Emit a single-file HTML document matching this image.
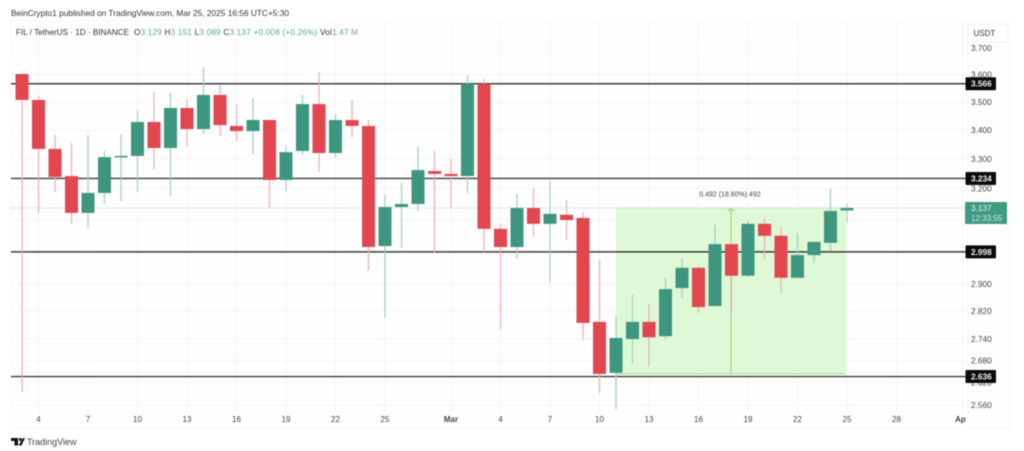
<!DOCTYPE html>
<html lang="en">
<head>
<meta charset="utf-8">
<title>FIL / TetherUS daily chart</title>
<style>
html,body{margin:0;padding:0;background:#fff;width:1024px;height:451px;overflow:hidden}
svg{display:block;filter:blur(0.5px)}
text{font-family:"Liberation Sans",sans-serif}
</style>
</head>
<body>
<svg id="chart" xmlns="http://www.w3.org/2000/svg" width="1024" height="451" viewBox="0 0 1024 451">
  <rect x="0" y="0" width="1024" height="451" fill="#ffffff"/>
  <rect x="10.5" y="20.5" width="1000" height="408" fill="#fefefe" stroke="#f8f8f8"/>
  <line x1="968" x2="968" y1="20" y2="428" stroke="#f6f6f6"/>
  <g id="grid"></g>
  <g>
    <rect x="616" y="208" width="230" height="166" fill="#dff8d6"/>
    <line x1="616" x2="846" y1="208" y2="208" stroke="#a5e08f"/>
    <line x1="616" x2="846" y1="374" y2="374" stroke="#a5e08f"/>
    <line x1="731" x2="731" y1="374" y2="208" stroke="#93d97b"/>
    <path d="M728 211.5 L731 208 L734 211.5" fill="none" stroke="#93d97b"/>
    <text x="730" y="196.5" text-anchor="middle" font-size="7" fill="#444">0.492 (18.60%) 492</text>
  </g>
  <line x1="11" x2="968" y1="208" y2="208" stroke="#cfe6df" stroke-width="0.8"/>
  <g id="axis-x"></g>
  <g id="axis-y"></g>
  <g id="levels"></g>
  <g id="candles"></g>
  <g id="level-badges"></g>
  <rect x="965" y="202" width="42" height="22" rx="1" fill="#3f9a82"/>
  <text x="971" y="211" font-size="8.3" fill="#e8f6f1">3.137</text>
  <text x="971" y="221" font-size="8" fill="#cfeae2">12:33:55</text>
  <rect x="968" y="24" width="40" height="18" rx="2" fill="#fff" stroke="#f2f2f2"/>
  <text x="973.5" y="36" font-size="8" fill="#333">USDT</text>
  <text x="11" y="16" font-size="8.4" fill="#333" textLength="278" lengthAdjust="spacingAndGlyphs">BeinCrypto1 published on TradingView.com, Mar 25, 2025 16:56 UTC+5:30</text>
  <text x="16" y="35" font-size="8.2" fill="#333" textLength="113" lengthAdjust="spacingAndGlyphs">FIL / TetherUS · 1D · BINANCE</text>
  <text x="134" y="35" font-size="8.2" fill="#333" textLength="224" lengthAdjust="spacing">O<tspan fill="#5aa994">3.129</tspan>  H<tspan fill="#5aa994">3.151</tspan>  L<tspan fill="#5aa994">3.089</tspan>  C<tspan fill="#5aa994">3.137</tspan>  <tspan fill="#5aa994">+0.008 (+0.26%)</tspan>  Vol<tspan fill="#5aa994">1.47 M</tspan></text>
  <g>
    <path d="M11 438 H18 V445.5 H14.5 V441 H11 Z M23 438 H25 L21.5 445.5 H18.5 Z" fill="#111"/>
    <circle cx="20.3" cy="439.5" r="1.5" fill="#111"/>
    <text x="27" y="445" font-size="9" fill="#444">TradingView</text>
  </g>
</svg>
<script>
// Daily OHLC
const dayOffsets = [0,1,2,3,4,5,6,7,8,9,10,11,12,13,14,15,16,17,18,19,20,21,22,23,24,25,26,27,28,29,30,31,32,33,34,35,36,37,38,39,40,41,42,43,44,45,46,47,48,49,50];
const opens  = [3.602,3.507,3.334,3.242,3.121,3.186,3.306,3.310,3.428,3.337,3.478,3.403,3.525,3.414,3.396,3.435,3.229,3.327,3.492,3.320,3.435,3.414,3.016,3.140,3.150,3.259,3.249,3.242,3.566,3.070,3.013,3.137,3.086,3.115,3.105,2.789,2.646,2.740,2.789,2.748,2.888,2.949,2.835,3.022,2.925,3.086,3.048,2.919,2.988,3.026,3.129];
const highs  = [3.602,3.521,3.382,3.354,3.382,3.327,3.386,3.467,3.536,3.532,3.510,3.628,3.561,3.492,3.514,3.435,3.344,3.525,3.610,3.456,3.507,3.435,3.179,3.222,3.344,3.327,3.300,3.598,3.584,3.086,3.182,3.202,3.225,3.163,3.124,2.973,2.806,2.870,2.841,2.919,2.979,2.955,3.083,3.022,3.098,3.102,3.076,3.057,3.029,3.199,3.151];
const lows   = [2.594,3.121,3.189,3.086,3.076,3.150,3.160,3.189,3.266,3.176,3.344,3.386,3.379,3.361,3.316,3.137,3.192,3.313,3.255,3.303,3.375,2.940,2.800,3.010,3.127,2.995,3.137,3.186,2.998,2.769,2.976,3.045,2.906,3.035,2.737,2.592,2.549,2.673,2.662,2.740,2.858,2.815,2.835,2.818,2.922,2.976,2.873,2.919,2.964,3.001,3.089];
const closes = [3.507,3.334,3.239,3.121,3.186,3.306,3.310,3.428,3.337,3.478,3.403,3.525,3.417,3.396,3.435,3.229,3.323,3.492,3.320,3.435,3.414,3.013,3.140,3.150,3.262,3.249,3.242,3.566,3.070,3.013,3.137,3.086,3.118,3.098,2.786,2.643,2.743,2.789,2.745,2.885,2.949,2.832,3.022,2.925,3.086,3.048,2.919,2.988,3.029,3.127,3.137];
const priceTicks = [3.7,3.6,3.5,3.4,3.3,3.2,2.9,2.82,2.74,2.68,2.62,2.56];
const gridOnlyPrices = [3.1,3.0];
const timeTickDays = [1,4,7,10,13,16,19,22,26,29,32,35,38,41,44,47,50,53,57];
const timeTickLabels = ["4","7","10","13","16","19","22","25","Mar","4","7","10","13","16","19","22","25","28","Ap"];
const levelPrices = [3.566,3.234,2.998,2.636];

const NS = 'http://www.w3.org/2000/svg';
function xScale(d){ return 22 + d * 16.5; }
function yScale(p){ return 48 + 969 * (Math.log(3.7) - Math.log(p)); }
function mk(parent, tag, attrs, text){
  const el = document.createElementNS(NS, tag);
  for (const k in attrs) el.setAttribute(k, attrs[k]);
  if (text !== undefined) el.textContent = text;
  parent.appendChild(el);
  return el;
}
const grid = document.getElementById('grid');
const axisX = document.getElementById('axis-x');
const axisY = document.getElementById('axis-y');
const candles = document.getElementById('candles');
const levels = document.getElementById('levels');
const levelBadges = document.getElementById('level-badges');

priceTicks.concat(gridOnlyPrices).forEach(function(p){
  const y = yScale(p);
  const line = mk(grid, 'line', {x1:11, x2:968, y1:y, y2:y, stroke:'#f5f5f5'});
  
  
});
timeTickDays.forEach(function(d, i){
  const x = xScale(d);
  if (x < 968) {
    const line = mk(grid, 'line', {x1:x, x2:x, y1:20, y2:412, stroke:'#f6f6f6'});
    
    
  }
  const isMajor = timeTickLabels[i] === 'Mar' || timeTickLabels[i] === 'Ap';
  const label = mk(axisX, 'text', {x:x - (timeTickLabels[i] === 'Ap' ? 2 : 0), y:422, 'text-anchor':'middle', 'font-size':8, 'font-weight':isMajor ? 'bold' : 'normal', fill:'#444'}, timeTickLabels[i]);
  
  
});
priceTicks.forEach(function(p){
  const label = mk(axisY, 'text', {x:971, y:yScale(p) + 3, 'font-size':8.3, fill:'#444'}, p.toFixed(3));
  
  
});
dayOffsets.forEach(function(d, i){
  const up = closes[i] >= opens[i];
  const x = xScale(d);
  const wick = mk(candles, 'line', {x1:x, x2:x, y1:yScale(highs[i]), y2:yScale(lows[i]), stroke:up ? '#9fd0c2' : '#ebaeb1', 'stroke-width':1.2});
  
  
  const top = yScale(Math.max(opens[i], closes[i]));
  const bottom = yScale(Math.min(opens[i], closes[i]));
  const body = mk(candles, 'rect', {x:x - 6.5, y:top, width:13, height:Math.max(bottom - top, 1.5), fill:up ? '#3f9680' : '#e2474f'});
  
  
});
levelPrices.forEach(function(p){
  const y = yScale(p);
  const line = mk(levels, 'line', {x1:11, x2:966, y1:y, y2:y, stroke:'#3c3c3c', 'stroke-width':1.4});
  
  
  const tag = mk(levelBadges, 'rect', {x:965.5, y:y - 6.5, width:30.5, height:13, rx:1, fill:'#0b0b0b'});
  
  
  const label = mk(levelBadges, 'text', {x:971, y:y + 3, 'font-size':8.3, 'font-weight':'bold', fill:'#f2f2f2'}, p.toFixed(3));
  
  
});
</script>
</body>
</html>
